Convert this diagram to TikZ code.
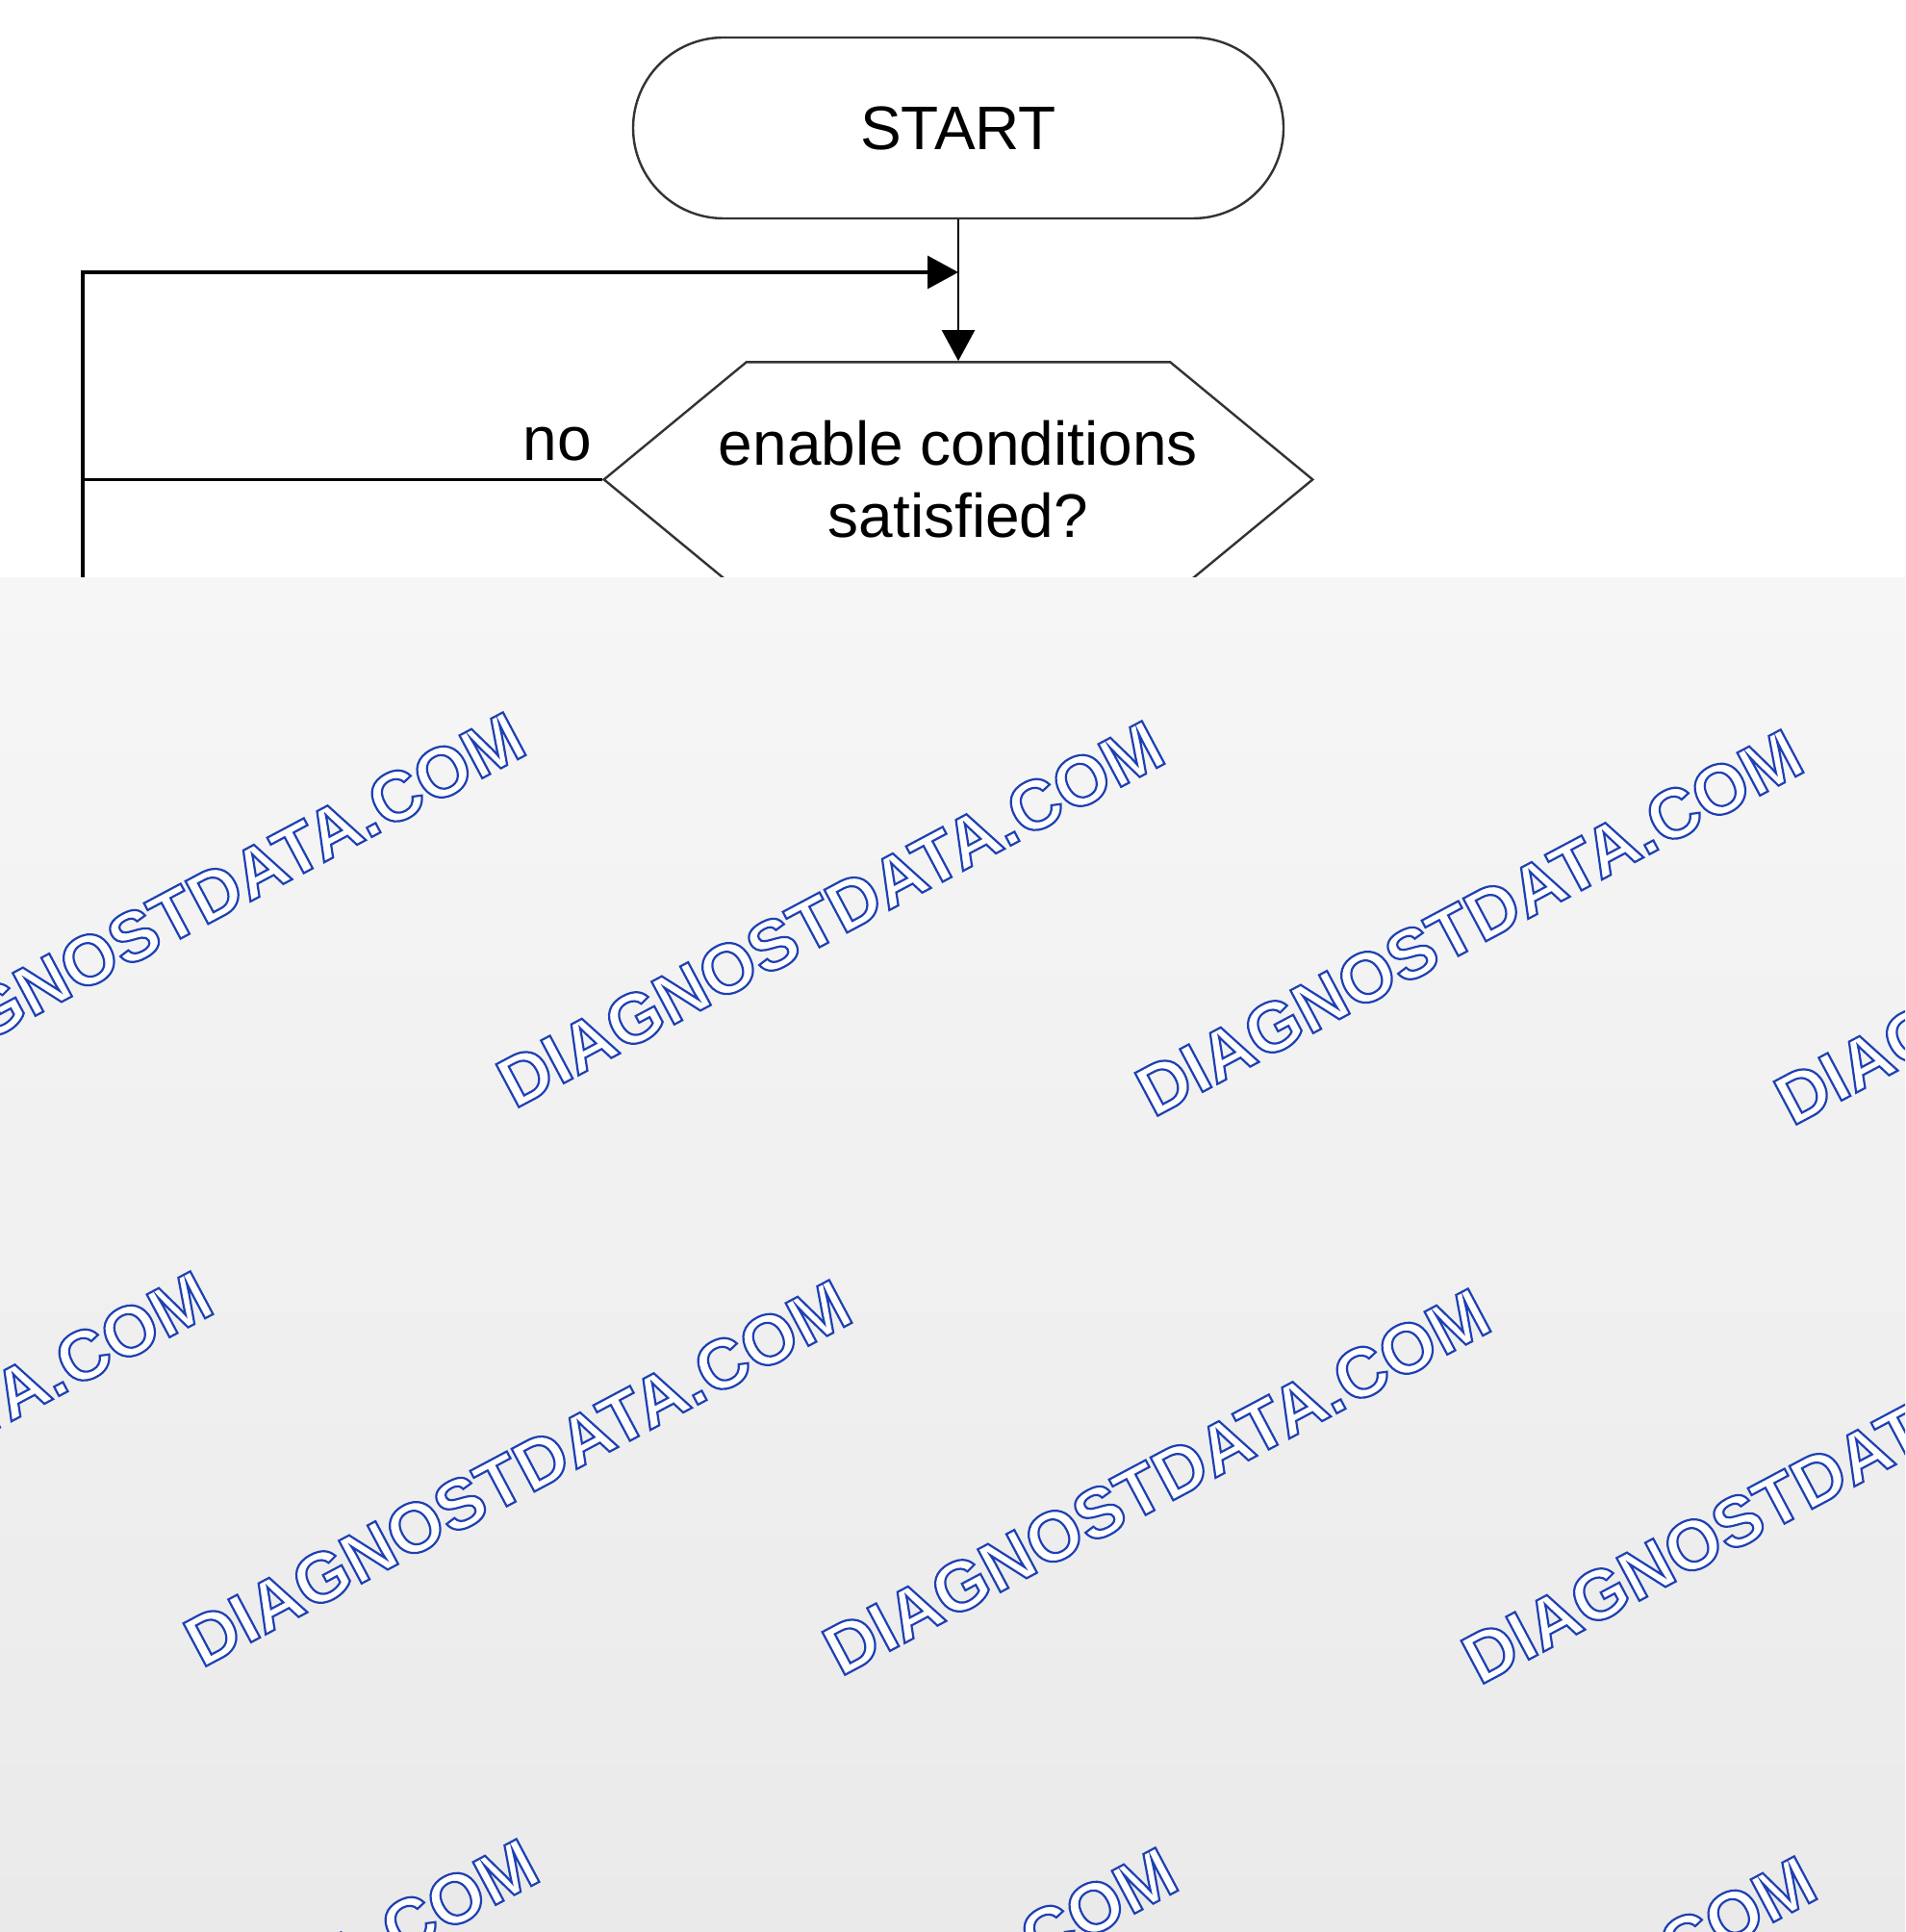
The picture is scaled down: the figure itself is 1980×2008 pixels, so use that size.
\documentclass[tikz,border=0pt]{standalone}
\usepackage{fontspec}
\setmainfont{Liberation Sans}
\usepackage{xcolor}
\usetikzlibrary{positioning,calc,shapes.symbols,arrows.meta}
\definecolor{MarkBlue}{RGB}{30,64,180}
\definecolor{FogTop}{RGB}{246,246,246}
\definecolor{FogGray}{RGB}{234,234,234}
\newcommand{\marktext}{{\color{white}\special{pdf:code 2 Tr 0.55 w 0.118 0.251 0.706 RG}DIAGNOSTDATA.COM}}
\tikzset{
    termnode/.style={draw=black!80, line width=0.6pt, rounded corners=23.5pt,
        minimum width=169pt, minimum height=47pt, inner sep=0pt,
        font=\fontsize{16}{19}\selectfont},
    decnode/.style={signal, signal to=east and west, signal pointer angle=79,
        draw=black!80, line width=0.6pt, minimum height=61pt,
        align=center, inner xsep=-7.2pt, inner ysep=0pt, font=\fontsize{16}{18.75}\selectfont},
    flowline/.style={draw=black, line width=0.8pt},
    flowarrow/.style={draw=black, line width=0.6pt, -{Triangle[length=8pt,width=8.5pt]}}
}
\begin{document}
\begin{tikzpicture}[x=0.25pt, y=0.25pt,
        marknode/.style={rotate=28, inner sep=0pt, font=\fontsize{18.3}{20}\selectfont\bfseries}
    ]
    \useasboundingbox (0,0) rectangle (1980,-2008);

    % --- flowchart ---
    \node[termnode] (start) at (996,-133) {START};
    \node[decnode, below=36.75pt of start] (enable) {enable conditions\\satisfied?};
    \node[anchor=base east, inner sep=0pt, font=\fontsize{16}{19}\selectfont] (nolabel)
        at ([xshift=-2.5pt, yshift=5pt]enable.west) {no};

    \coordinate (merge) at (start.south |- 0,-283);
    \coordinate (loopin) at (86,-760);

    \draw[flowarrow] (start.south) -- (enable.north);
    \draw[flowline] (enable.west) -- (enable.west -| loopin);
    \draw[flowline, -{Triangle[length=8pt,width=8.5pt]}] (loopin) |- (merge);

    % --- overlay ---
    \shade[top color=FogTop, bottom color=FogGray] (0,-601) rectangle (1980,-2008);
    \begin{scope}
        \clip (0,-601) rectangle (1980,-2008);
        \foreach \i in {-1,0,1,2}
            \foreach \j in {0,1,2}
                \node[marknode] (mark-\i-\j) at ({863+664*\i-325*\j}, {-950-9*\i-581*\j}) {\marktext};
    \end{scope}
\end{tikzpicture}
\end{document}
